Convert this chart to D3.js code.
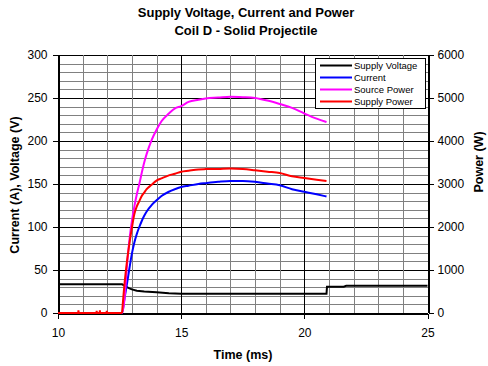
<!DOCTYPE html>
<html><head><meta charset="utf-8">
<script src="https://cdn.jsdelivr.net/npm/d3@7"></script>
<style>
body{margin:0;background:#fff;}
svg{display:block;font-family:Arial,"Liberation Sans",sans-serif;}
</style></head><body>
<svg id="c" width="488" height="366"></svg>
<script>
// ---- data ----
const title1 = "Supply Voltage, Current and Power";
const title2 = "Coil D - Solid Projectile";
const xTicks = [10, 15, 20, 25];
const leftTicks = [0, 50, 100, 150, 200, 250, 300];
const rightTicks = [0, 1000, 2000, 3000, 4000, 5000, 6000];
const seriesNames = ["Supply Voltage", "Current", "Source Power", "Supply Power"];
const seriesColors = ["#000000", "#0000FF", "#FF00FF", "#FF0000"];

// supply voltage (V), left axis
const voltTime = [10, 12.6, 12.7, 12.8, 12.9, 13.0, 13.2, 13.5, 14.0, 14.5, 15.0, 20.9, 20.92, 21.6, 21.7, 25];
const voltValues = [33.3, 33.3, 32, 30, 28.7, 27.5, 26, 25, 24, 23, 22.5, 22.3, 30.5, 30.6, 31.6, 31.6];

// shared time base for current and powers (ms)
const time = [10, 12.6, 12.7, 12.8, 12.9, 13.0, 13.1, 13.2, 13.3, 13.4, 13.5, 13.6, 13.8, 14.0, 14.2, 14.5, 14.75, 15.0, 15.3, 15.7, 16.0, 16.5, 17.0, 17.5, 18.0, 18.5, 19.0, 19.5, 20.0, 20.5, 20.9];
// current (A), left axis
const current = [0, 0, 17, 34, 52, 69, 82, 92, 100, 107, 113, 118, 125.5, 131, 136, 141, 144, 146.5, 148, 150, 151, 152.5, 153.5, 153.5, 152.5, 150.5, 148.5, 144, 141, 138, 135.5];
// source power (W), right axis
const sourcePower = [0, 0, 320, 1100, 1700, 2140, 2480, 2760, 3000, 3260, 3500, 3700, 4020, 4260, 4460, 4640, 4760, 4810, 4910, 4960, 4990, 5010, 5030, 5020, 5000, 4940, 4860, 4770, 4640, 4520, 4440];
// supply power (W), right axis
const supplyPower = [0, 0, 680, 1200, 1620, 1980, 2300, 2480, 2600, 2720, 2800, 2880, 2980, 3080, 3130, 3200, 3240, 3286, 3310, 3340, 3346, 3350, 3360, 3350, 3320, 3286, 3256, 3180, 3140, 3100, 3070];
// small noise spikes on supply power before the pulse
const spikeTime = [10.83, 11.57, 11.7, 11.98];
const spikeValues = [60, 50, 60, 50];

// ---- chart ----
const svg = d3.select("#c");
const x = d3.scaleLinear().domain([10, 25]).range([58, 427.5]);
const yL = d3.scaleLinear().domain([0, 300]).range([313, 55]);
const yR = d3.scaleLinear().domain([0, 6000]).range([313, 55]);

// grid
const grid = svg.append("g").attr("shape-rendering", "crispEdges");
d3.range(0, 301, 10).forEach(v => {
  grid.append("line").attr("x1", x(10)).attr("x2", x(25))
    .attr("y1", Math.round(yL(v)) + 0.5).attr("y2", Math.round(yL(v)) + 0.5)
    .attr("stroke", v % 50 === 0 ? "#000" : "#808080").attr("stroke-width", 1);
});
d3.range(10, 25.01, 1).forEach(t => {
  grid.append("line").attr("y1", yL(0)).attr("y2", yL(300))
    .attr("x1", Math.round(x(t)) + 0.5).attr("x2", Math.round(x(t)) + 0.5)
    .attr("stroke", t % 5 === 0 ? "#000" : "#808080").attr("stroke-width", 1);
});

// axes
function styleAxis(g) {
  g.attr("font-family", "Arial, 'Liberation Sans', sans-serif").attr("font-size", 12);
  g.selectAll("path,line").attr("stroke", "#000").attr("shape-rendering", "crispEdges");
  g.selectAll("text").attr("fill", "#000");
}
svg.append("g").attr("transform", "translate(58.5,0)")
  .call(d3.axisLeft(yL).tickValues(leftTicks).tickFormat(d3.format("d")).tickSize(6).tickSizeOuter(0).tickPadding(5))
  .call(styleAxis);
svg.append("g").attr("transform", "translate(428.5,0)")
  .call(d3.axisRight(yR).tickValues(rightTicks).tickFormat(d3.format("d")).tickSize(5).tickSizeOuter(0).tickPadding(4))
  .call(styleAxis);
svg.append("g").attr("transform", "translate(0,313.5)")
  .call(d3.axisBottom(x).tickValues(xTicks).tickFormat(d3.format("d")).tickSize(5).tickSizeOuter(0).tickPadding(10))
  .call(styleAxis);

// lines
const lineL = d3.line().x(d => x(d[0])).y(d => yL(d[1]));
const lineR = d3.line().x(d => x(d[0])).y(d => yR(d[1]));
const lineRs = d3.line().x(d => x(d[0])).y(d => yR(d[1])).curve(d3.curveMonotoneX);
const lineLs = d3.line().x(d => x(d[0])).y(d => yL(d[1])).curve(d3.curveMonotoneX);
const plot = svg.append("g").attr("fill", "none").attr("stroke-width", 2).attr("stroke-linejoin", "miter");

plot.append("path").attr("d", lineL(voltTime.map((t, i) => [t, voltValues[i]]))).attr("stroke", seriesColors[0]);
plot.append("path").attr("d", lineLs(time.map((t, i) => [t, current[i]]))).attr("stroke", seriesColors[1]);
plot.append("path").attr("d", lineRs(time.map((t, i) => [t, sourcePower[i]]))).attr("stroke", seriesColors[2]);
const spMain = time.map((t, i) => [t, supplyPower[i]]);
let spPre = [[10, 0]];
spikeTime.forEach((t, i) => { spPre.push([t - 0.01, 0], [t, spikeValues[i]], [t + 0.01, 0]); });
spPre.push([12.6, 0]);
plot.append("path").attr("d", lineR(spPre)).attr("stroke", seriesColors[3]);
plot.append("path").attr("d", lineRs(spMain.filter(d => d[0] >= 12.6))).attr("stroke", seriesColors[3]);

// legend
const lg = svg.append("g");
lg.append("rect").attr("x", 315.5).attr("y", 58.5).attr("width", 110).attr("height", 50)
  .attr("fill", "#fff").attr("stroke", "#000").attr("shape-rendering", "crispEdges");
seriesNames.forEach((n, i) => {
  const yy = 65.5 + i * 12;
  lg.append("line").attr("x1", 320).attr("x2", 352).attr("y1", yy).attr("y2", yy)
    .attr("stroke", seriesColors[i]).attr("stroke-width", 2);
  lg.append("text").attr("x", 354).attr("y", yy).attr("dy", "0.36em")
    .attr("font-size", 9.5).text(n);
});

// titles
svg.append("text").attr("x", 246).attr("y", 16.5).attr("text-anchor", "middle")
  .attr("font-weight", "bold").attr("font-size", 13).text(title1);
svg.append("text").attr("x", 246).attr("y", 34.5).attr("text-anchor", "middle")
  .attr("font-weight", "bold").attr("font-size", 13).text(title2);
svg.append("text").attr("x", 243).attr("y", 359).attr("text-anchor", "middle")
  .attr("font-weight", "bold").attr("font-size", 12.5).text("Time (ms)");
svg.append("text").attr("transform", "translate(19,185) rotate(-90)").attr("text-anchor", "middle")
  .attr("font-weight", "bold").attr("font-size", 12.5).text("Current (A), Voltage (V)");
svg.append("text").attr("transform", "translate(483,162) rotate(-90)").attr("text-anchor", "middle")
  .attr("font-weight", "bold").attr("font-size", 12.5).text("Power (W)");
</script>
</body></html>
